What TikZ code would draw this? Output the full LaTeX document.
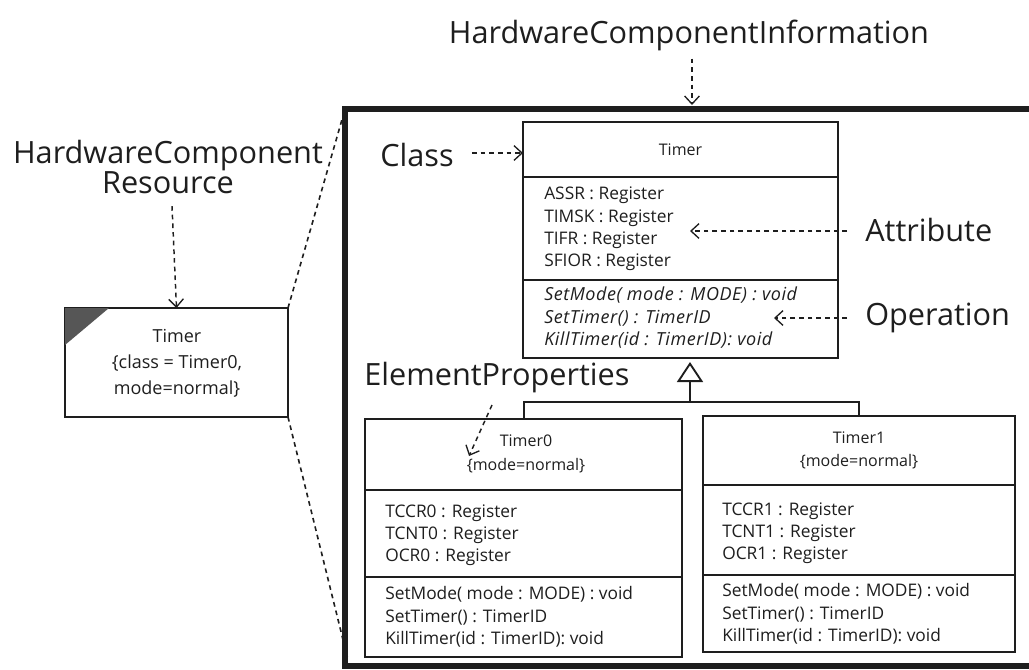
\documentclass[tikz,border=0pt]{standalone}
\usepackage{fontspec}
\setmainfont{Open Sans}
\usetikzlibrary{arrows.meta}
\definecolor{ink}{HTML}{1E1E1E}
\begin{document}
\begin{tikzpicture}[x=0.75pt,y=-0.75pt,
  every node/.style={text=ink},
  box/.style={draw=ink, line width=1.5pt, inner sep=0pt, outer sep=0pt, anchor=north west},
  biglbl/.style={font=\fontsize{23}{28}\selectfont, inner sep=0pt},
  small/.style={font=\fontsize{13}{16.7}\selectfont, inner sep=0pt, align=left, anchor=west},
  smallit/.style={font=\fontsize{13.5}{16.9}\selectfont\itshape\addfontfeatures{LetterSpace=3}, inner sep=0pt, align=left, anchor=west},
  note/.style={draw=ink, line width=1.1pt, dash pattern=on 3.5pt off 3pt,
    -{Straight Barb[length=6pt,width=11pt,line width=1pt]}},
  gen/.style={draw=ink, line width=1.5pt}]
\useasboundingbox (0,0) rectangle (1029,669);
\clip (0,0) rectangle (1029,669);

% outer frame
\node[box, line width=4pt, minimum width=720*0.75pt, minimum height=557*0.75pt] (frame) at (345,109) {};

% labels
\node[biglbl] (hci) at (689,35) {HardwareComponentInformation};
\node[biglbl, align=center, font=\fontsize{23}{22.5}\selectfont] (hcr) at (168,167) {HardwareComponent\\Resource};
\node[biglbl, anchor=west] (clsl) at (380,155) {Class};
\node[biglbl, anchor=west] (attl) at (865,230) {Attribute};
\node[biglbl, anchor=west] (opl) at (865,318) {Operation};
\node[biglbl, anchor=west] (epl) at (364,378) {ElementProperties};

% left instance box
\node[box, minimum width=223*0.75pt, minimum height=109*0.75pt] (lbox) at (65,308) {};
\fill[ink!75] (lbox.north west) -- ++(44,0) -- ++(-44,37) -- cycle;
\node[inner sep=0pt, align=center, font=\fontsize{13.5}{19.5}\selectfont] (ltxt) at (177,363) {Timer\\\{class = Timer0,\\mode=normal\}};

% Timer class
\node[box, minimum width=315*0.75pt, minimum height=55*0.75pt] (tname) at (523,122) {};
\node[box, minimum width=315*0.75pt, minimum height=103*0.75pt] (tattr) at (523,177) {};
\node[box, minimum width=315*0.75pt, minimum height=78*0.75pt] (tops) at (523,280) {};
\node[inner sep=0pt, font=\fontsize{12}{14}\selectfont] (tnt) at (tname.center) {Timer};
\node[small] (tat) at (544,229) {ASSR : Register\\TIMSK : Register\\TIFR : Register\\SFIOR : Register};
\node[smallit] (tot) at (544,318) {SetMode( mode : MODE) : void\\SetTimer() : TimerID\\KillTimer(id : TimerID): void};

% Timer0
\node[box, minimum width=317*0.75pt, minimum height=71*0.75pt] (aname) at (365,419) {};
\node[box, minimum width=317*0.75pt, minimum height=87*0.75pt] (aattr) at (365,490) {};
\node[box, minimum width=317*0.75pt, minimum height=80*0.75pt] (aops) at (365,577) {};
\node[inner sep=0pt, align=center, font=\fontsize{12}{17.5}\selectfont] (ant) at (526,454) {Timer0\\\{mode=normal\}};
\node[small] (aat) at (385,535) {TCCR0 : Register\\TCNT0 : Register\\OCR0 : Register};
\node[small] (aot) at (385,617) {SetMode( mode : MODE) : void\\SetTimer() : TimerID\\KillTimer(id : TimerID): void};

% Timer1
\node[box, minimum width=312*0.75pt, minimum height=69*0.75pt] (bname) at (703,416) {};
\node[box, minimum width=312*0.75pt, minimum height=90*0.75pt] (battr) at (703,485) {};
\node[box, minimum width=312*0.75pt, minimum height=77*0.75pt] (bops) at (703,575) {};
\node[inner sep=0pt, align=center, font=\fontsize{12}{17.5}\selectfont] (bnt) at (bname.center) {Timer1\\\{mode=normal\}};
\node[small] (bat) at (722,533) {TCCR1 : Register\\TCNT1 : Register\\OCR1 : Register};
\node[small] (bot) at (722,614) {SetMode( mode : MODE) : void\\SetTimer() : TimerID\\KillTimer(id : TimerID): void};

% generalization
\coordinate (genj) at (690,402);
\coordinate (gtip) at (690,362);
\draw[gen] (aname.north) |- (genj) -| (bname.north);
\draw[gen, -{Triangle[open, length=20pt*0.75, width=26pt*0.75, line width=1.4pt]}] (genj) -- (gtip);

% note arrows
\coordinate (hcitip) at (692,105);
\draw[note] (hci.south) ++(3,8) -- (hcitip);
\draw[note] (hcr.south) ++(4,12) -- (lbox.north);
\draw[note] (clsl.east) ++(18,-2) -- (tname.west |- 0,153);
\coordinate (atail) at (847,231);
\coordinate (atip) at (690,231);
\draw[note] (atail) -- (atip);
\coordinate (otail) at (847,318);
\coordinate (otip) at (774,318);
\draw[note] (otail) -- (otip);
\coordinate (etail) at (492,405);
\coordinate (etip) at (469,456);
\draw[note] (etail) -- (etip);

% zoom lines
\draw[draw=ink, line width=1.2pt, dash pattern=on 3.5pt off 3pt] (lbox.north east) -- (frame.north west);
\draw[draw=ink, line width=1.2pt, dash pattern=on 3.5pt off 3pt] (lbox.south east) -- (348,660);
\end{tikzpicture}
\end{document}
